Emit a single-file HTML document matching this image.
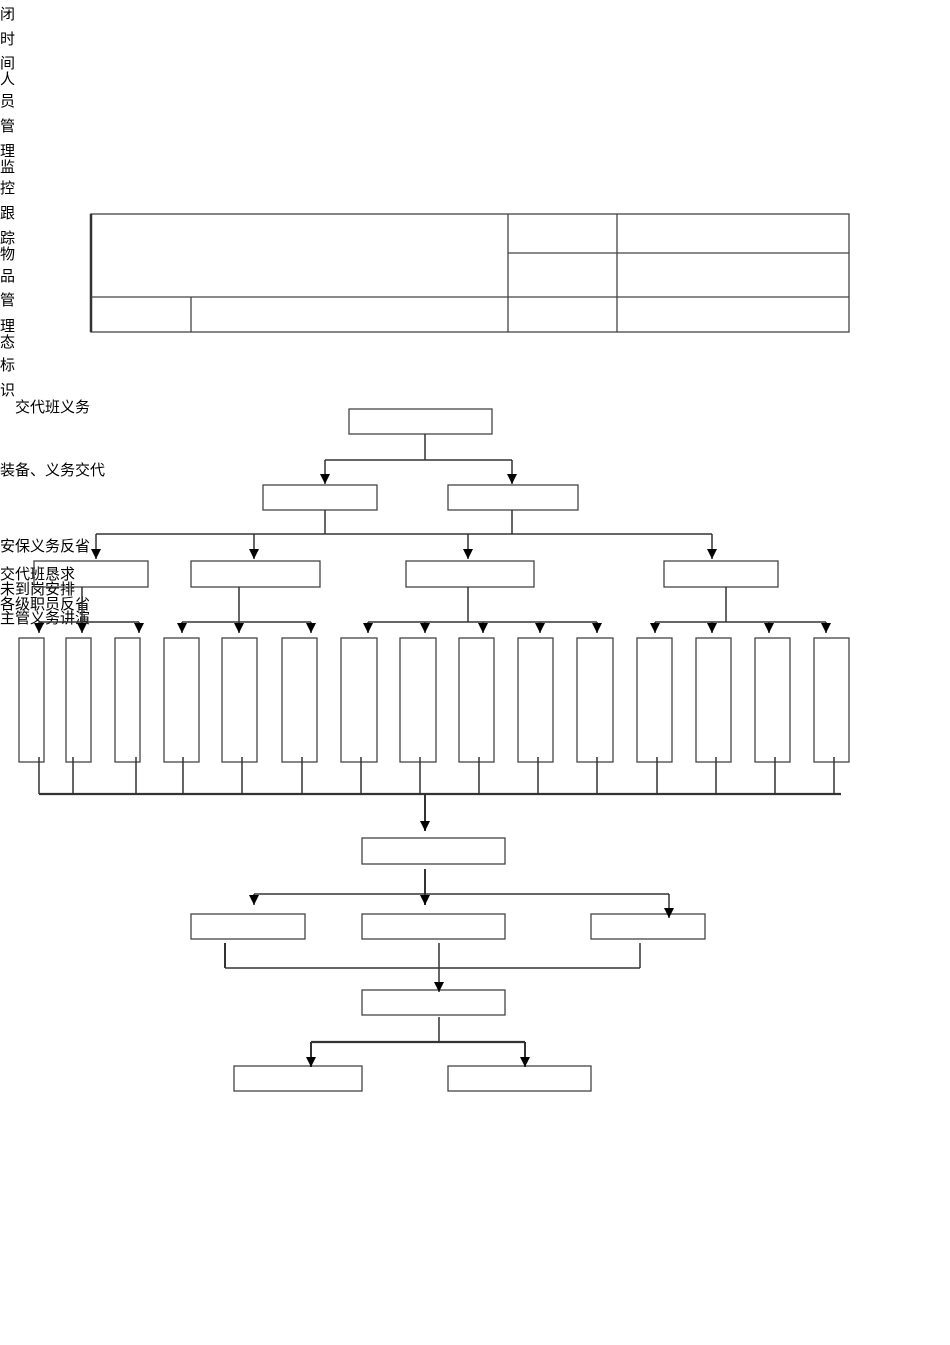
<!DOCTYPE html>
<html><head><meta charset="utf-8"><style>
html,body{margin:0;padding:0;background:#fff;}
svg{display:block;}
text{font-family:"Liberation Sans","Noto Sans CJK SC",sans-serif;font-size:15px;fill:#000;}
</style></head><body>
<svg width="950" height="1345" viewBox="0 0 950 1345" xmlns="http://www.w3.org/2000/svg">
<defs><marker id="a" markerWidth="10" markerHeight="10" refX="5" refY="10" orient="0" markerUnits="userSpaceOnUse"><polygon points="0,0 10,0 5,10" fill="#000"/></marker></defs>
<g>
<text x="0" y="19">闭</text><text x="0" y="44">时</text><text x="0" y="68">间</text><text x="0" y="84">人</text><text x="0" y="106">员</text><text x="0" y="131">管</text><text x="0" y="156">理</text><text x="0" y="172">监</text><text x="0" y="193">控</text><text x="0" y="218">跟</text><text x="0" y="243">踪</text><text x="0" y="259">物</text><text x="0" y="281">品</text><text x="0" y="305">管</text><text x="0" y="331">理</text><text x="0" y="347">态</text><text x="0" y="370">标</text><text x="0" y="395">识</text>
<text x="15" y="412">交代班义务</text>
<text x="0" y="475">装备、义务交代</text>
<text x="0" y="551">安保义务反省</text>
<text x="0" y="579">交代班恳求</text>
<text x="0" y="594">未到岗安排</text>
<text x="0" y="609">各级职员反省</text>
<text x="0" y="623">主管义务讲演</text>
</g>
<g fill="none" stroke="#444" stroke-width="1.3">
<rect x="91" y="214" width="758" height="118"/>
<line x1="91" y1="214" x2="91" y2="332" stroke-width="2.5" stroke="#333"/>
<line x1="91" y1="297" x2="849" y2="297"/>
<line x1="508" y1="253" x2="849" y2="253"/>
<line x1="508" y1="214" x2="508" y2="332"/>
<line x1="617" y1="214" x2="617" y2="332"/>
<line x1="191" y1="297" x2="191" y2="332"/>
<rect x="349" y="409" width="143" height="25"/>
<rect x="263" y="485" width="114" height="25"/>
<rect x="448" y="485" width="130" height="25"/>
<rect x="34" y="561" width="114" height="26"/>
<rect x="191" y="561" width="129" height="26"/>
<rect x="406" y="561" width="128" height="26"/>
<rect x="664" y="561" width="114" height="26"/>
<rect x="19" y="638" width="25" height="124"/><rect x="66" y="638" width="25" height="124"/><rect x="115" y="638" width="25" height="124"/>
<rect x="164" y="638" width="35" height="124"/><rect x="222" y="638" width="35" height="124"/><rect x="282" y="638" width="35" height="124"/>
<rect x="341" y="638" width="36" height="124"/><rect x="400" y="638" width="36" height="124"/><rect x="459" y="638" width="35" height="124"/><rect x="518" y="638" width="35" height="124"/><rect x="577" y="638" width="36" height="124"/>
<rect x="637" y="638" width="35" height="124"/><rect x="696" y="638" width="35" height="124"/><rect x="755" y="638" width="35" height="124"/><rect x="814" y="638" width="35" height="124"/>
<rect x="362" y="838" width="143" height="26"/>
<rect x="191" y="914" width="114" height="25"/>
<rect x="362" y="914" width="143" height="25"/>
<rect x="591" y="914" width="114" height="25"/>
<rect x="362" y="990" width="143" height="25"/>
<rect x="234" y="1066" width="128" height="25"/>
<rect x="448" y="1066" width="143" height="25"/>
</g>
<g fill="none" stroke="#333" stroke-width="1.5">
<line x1="425" y1="434" x2="425" y2="460"/>
<line x1="325" y1="460" x2="512" y2="460"/>
<line x1="325" y1="460" x2="325" y2="484" marker-end="url(#a)"/>
<line x1="512" y1="460" x2="512" y2="484" marker-end="url(#a)"/>
<line x1="325" y1="510" x2="325" y2="534"/><line x1="512" y1="510" x2="512" y2="534"/>
<line x1="96" y1="534" x2="712" y2="534"/>
<line x1="96" y1="534" x2="96" y2="559" marker-end="url(#a)"/>
<line x1="254" y1="534" x2="254" y2="559" marker-end="url(#a)"/>
<line x1="468" y1="534" x2="468" y2="559" marker-end="url(#a)"/>
<line x1="712" y1="534" x2="712" y2="559" marker-end="url(#a)"/>
<line x1="82" y1="587" x2="82" y2="622"/>
<line x1="39" y1="622" x2="139" y2="622"/>
<line x1="39" y1="622" x2="39" y2="633" marker-end="url(#a)"/><line x1="82" y1="622" x2="82" y2="633" marker-end="url(#a)"/><line x1="139" y1="622" x2="139" y2="633" marker-end="url(#a)"/>
<line x1="239" y1="587" x2="239" y2="622"/>
<line x1="182" y1="622" x2="311" y2="622"/>
<line x1="182" y1="622" x2="182" y2="633" marker-end="url(#a)"/><line x1="239" y1="622" x2="239" y2="633" marker-end="url(#a)"/><line x1="311" y1="622" x2="311" y2="633" marker-end="url(#a)"/>
<line x1="468" y1="587" x2="468" y2="622"/>
<line x1="368" y1="622" x2="597" y2="622"/>
<line x1="368" y1="622" x2="368" y2="633" marker-end="url(#a)"/><line x1="425" y1="622" x2="425" y2="633" marker-end="url(#a)"/><line x1="483" y1="622" x2="483" y2="633" marker-end="url(#a)"/><line x1="540" y1="622" x2="540" y2="633" marker-end="url(#a)"/><line x1="597" y1="622" x2="597" y2="633" marker-end="url(#a)"/>
<line x1="726" y1="587" x2="726" y2="622"/>
<line x1="655" y1="622" x2="826" y2="622"/>
<line x1="655" y1="622" x2="655" y2="633" marker-end="url(#a)"/><line x1="712" y1="622" x2="712" y2="633" marker-end="url(#a)"/><line x1="769" y1="622" x2="769" y2="633" marker-end="url(#a)"/><line x1="826" y1="622" x2="826" y2="633" marker-end="url(#a)"/>
<line x1="39" y1="757" x2="39" y2="794"/><line x1="73" y1="757" x2="73" y2="794"/><line x1="136" y1="757" x2="136" y2="794"/><line x1="183" y1="757" x2="183" y2="794"/><line x1="242" y1="757" x2="242" y2="794"/><line x1="302" y1="757" x2="302" y2="794"/><line x1="361" y1="757" x2="361" y2="794"/><line x1="420" y1="757" x2="420" y2="794"/><line x1="479" y1="757" x2="479" y2="794"/><line x1="538" y1="757" x2="538" y2="794"/><line x1="597" y1="757" x2="597" y2="794"/><line x1="657" y1="757" x2="657" y2="794"/><line x1="716" y1="757" x2="716" y2="794"/><line x1="775" y1="757" x2="775" y2="794"/><line x1="834" y1="757" x2="834" y2="794"/>
<line x1="39" y1="794" x2="841" y2="794" stroke-width="2.2"/>
<line x1="425" y1="794" x2="425" y2="831" marker-end="url(#a)" stroke-width="2"/>
<line x1="425" y1="869" x2="425" y2="905" marker-end="url(#a)" stroke-width="2"/>
<line x1="254" y1="894" x2="669" y2="894"/>
<line x1="254" y1="894" x2="254" y2="905" marker-end="url(#a)"/>
<line x1="669" y1="894" x2="669" y2="918" marker-end="url(#a)"/>
<line x1="225" y1="943" x2="225" y2="968" stroke-width="2"/>
<line x1="640" y1="943" x2="640" y2="968"/>
<line x1="225" y1="968" x2="640" y2="968"/>
<line x1="439" y1="943" x2="439" y2="992" marker-end="url(#a)"/>
<line x1="439" y1="1017" x2="439" y2="1042"/>
<line x1="311" y1="1042" x2="525" y2="1042" stroke-width="2.2"/>
<line x1="311" y1="1042" x2="311" y2="1067" marker-end="url(#a)" stroke-width="2"/>
<line x1="525" y1="1042" x2="525" y2="1067" marker-end="url(#a)" stroke-width="2"/>
</g>
</svg>
</body></html>
